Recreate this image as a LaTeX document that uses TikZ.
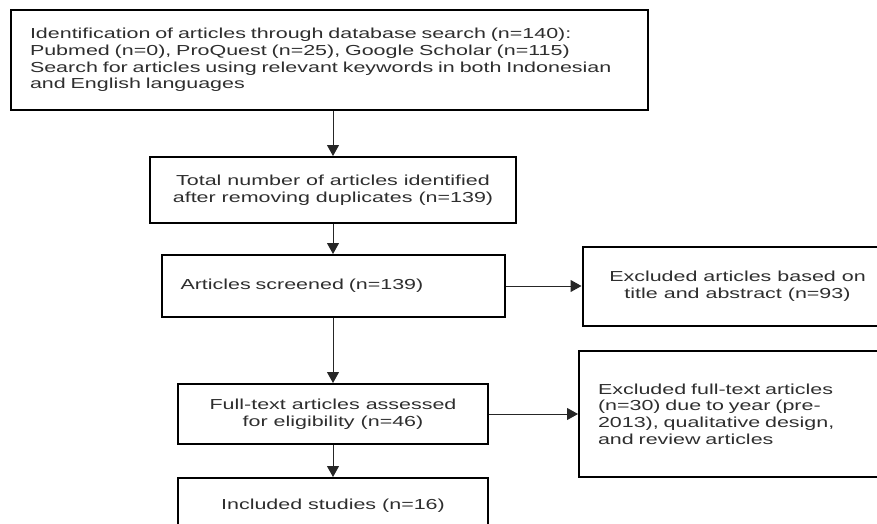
\documentclass[tikz,border=0pt]{standalone}
\usepackage{fontspec}
\setmainfont{Liberation Sans}[FakeStretch=1.48]
\usetikzlibrary{arrows.meta,positioning}

\begin{document}
\begin{tikzpicture}[
  x=1pt, y=1pt,
  font=\fontsize{14.5pt}{16.7pt}\selectfont,
  >={Triangle[length=11pt,width=12pt]},
  box/.style={draw, line width=2pt, inner sep=0pt, text=black!82},
  leftbox/.style={box, align=left, inner xsep=19pt},
  midbox/.style={box, align=center},
  flow/.style={->, line width=1pt, black!85}
]
\useasboundingbox (0,0) rectangle (877,-524);

\node[leftbox, anchor=north west, minimum width=637pt, minimum height=100pt, text width=599pt] (search) at (10,-9)
  {Identification of articles through database search (n=140):\\
   Pubmed (n=0), ProQuest (n=25), Google Scholar (n=115)\\
   Search for articles using relevant keywords in both Indonesian\\
   and English languages};
\node[midbox, minimum width=366pt, minimum height=66pt, below=45pt of search, xshift=3.5pt] (dedup)
  {Total number of articles identified\\after removing duplicates (n=139)};
\node[leftbox, minimum width=343pt, minimum height=62pt, text width=305pt, below=30pt of dedup] (screen)
  {Articles screened (n=139)};
\node[midbox, minimum width=310pt, minimum height=60pt, below=65pt of screen] (elig)
  {Full-text articles assessed\\for eligibility (n=46)};
\node[midbox, minimum width=310pt, minimum height=56pt, below=32pt of elig] (incl)
  {Included studies (n=16)};

\node[midbox, minimum width=310pt, minimum height=79pt, right=76pt of screen] (excl1)
  {Excluded articles based on\\title and abstract (n=93)};
\node[leftbox, minimum width=310pt, minimum height=126pt, text width=272pt, right=89pt of elig] (excl2)
  {Excluded full-text articles\\(n=30) due to year (pre-\\2013), qualitative design,\\and review articles};

\draw[flow] (search.south -| dedup) -- (dedup);
\draw[flow] (dedup) -- (screen);
\draw[flow] (screen) -- (elig);
\draw[flow] (elig) -- (incl);
\draw[flow] (screen) -- (excl1);
\draw[flow] (elig) -- (excl2);
\end{tikzpicture}
\end{document}
